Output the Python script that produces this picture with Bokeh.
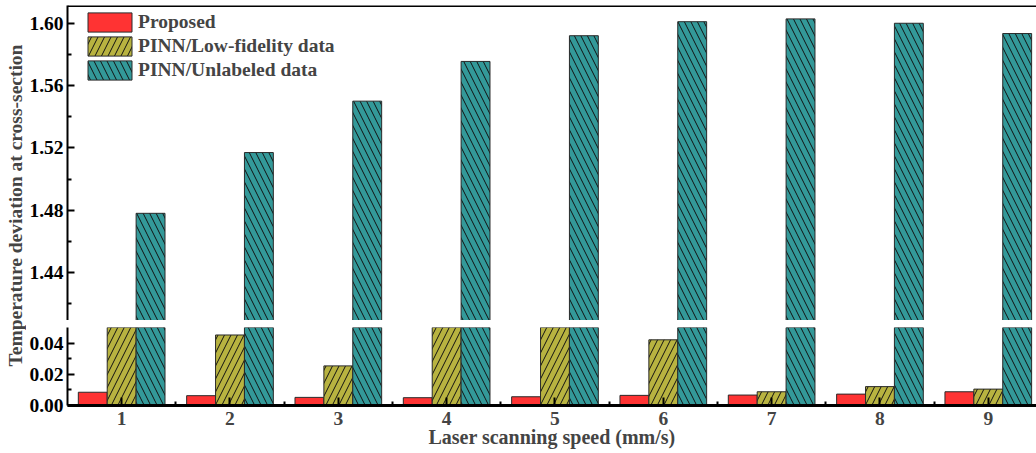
import math
from bokeh.plotting import figure
from bokeh.layouts import row, column
from bokeh.models import (ColumnDataSource, Range1d, FixedTicker, PrintfTickFormatter,
                          Legend, LegendItem, Span, Label)
from bokeh.transform import dodge
from bokeh.embed import file_html
from bokeh.resources import INLINE

# ---------------- data ----------------
speeds = [1, 2, 3, 4, 5, 6, 7, 8, 9]
proposed = [0.0085, 0.0063, 0.0052, 0.0050, 0.0056, 0.0065, 0.0067, 0.0073, 0.0088]
pinn_lowfid = [0.080, 0.0452, 0.0254, 0.070, 0.065, 0.0421, 0.0088, 0.0121, 0.0105]
pinn_unlabeled = [1.478, 1.517, 1.550, 1.5755, 1.592, 1.601, 1.6028, 1.600, 1.5934]
series_names = ["Proposed", "PINN/Low-fidelity data", "PINN/Unlabeled data"]
top_ticks = [1.44, 1.48, 1.52, 1.56, 1.60]
top_minor = [1.42, 1.46, 1.50, 1.54, 1.58]
bot_ticks = [0.00, 0.02, 0.04]
bot_minor = [0.01, 0.03]
x_minor = [1.5, 2.5, 3.5, 4.5, 5.5, 6.5, 7.5, 8.5]

FONT = "Liberation Serif"
colors = ["#FF3333", "#B8B340", "#339999"]
hatches = [None, "/", "\\"]
offsets = [-0.2667, 0.0, 0.2667]
bw = 0.2667

src = ColumnDataSource(dict(x=speeds, a=proposed, b=pinn_lowfid, c=pinn_unlabeled))
cols = ["a", "b", "c"]

xr = Range1d(0.5, 9.445)


def add_bars(p):
    rs = []
    for i in range(3):
        kw = dict(fill_color=colors[i], line_color="#2a2a2a", line_width=1)
        if hatches[i]:
            kw.update(hatch_pattern=hatches[i], hatch_color="#111111", hatch_scale=13, hatch_weight=1)
        r = p.vbar(x=dodge("x", offsets[i], range=p.x_range), top=cols[i], bottom=0, width=bw,
                   source=src, **kw)
        rs.append(r)
    return rs


def style_y(ax, ticks, minor):
    ax.ticker = FixedTicker(ticks=ticks, minor_ticks=minor)
    ax.formatter = PrintfTickFormatter(format="%.2f")
    ax.major_label_text_font = FONT
    ax.major_label_text_font_style = "bold"
    ax.major_label_text_font_size = "19.5px"
    ax.major_label_text_color = "black"
    ax.axis_line_width = 2
    ax.axis_line_color = "black"
    ax.major_tick_in = 7
    ax.major_tick_out = 0
    ax.minor_tick_in = 4
    ax.minor_tick_out = 0
    ax.major_tick_line_width = 2
    ax.minor_tick_line_width = 2
    ax.major_label_standoff = 4


# ---------------- top panel ----------------
top = figure(width=1010, height=320, x_range=xr, y_range=Range1d(1.4092, 1.6114),
             output_backend="svg", toolbar_location=None, x_axis_location=None,
             min_border_left=41, min_border_right=0, min_border_top=5, min_border_bottom=0)
top.outline_line_color = None
top.grid.visible = False
rs_top = add_bars(top)
style_y(top.yaxis[0], top_ticks, top_minor)
top.add_layout(Span(location=1.6114, dimension="width", line_color="black", line_width=3))

legend = Legend(items=[LegendItem(label=series_names[i], renderers=[rs_top[i]]) for i in range(3)],
                location=(15, 238), margin=0, padding=0, spacing=0,
                glyph_width=55, glyph_height=24,
                label_text_font=FONT, label_text_font_style="bold", label_text_font_size="19.5px",
                label_standoff=1, background_fill_alpha=0, border_line_color=None)
top.add_layout(legend)

# ---------------- bottom panel ----------------
bot = figure(width=1010, height=133, x_range=xr, y_range=Range1d(0, 0.05),
             output_backend="svg", toolbar_location=None,
             min_border_left=41, min_border_right=0, min_border_top=7, min_border_bottom=48)
bot.outline_line_color = None
bot.grid.visible = False
add_bars(bot)
style_y(bot.yaxis[0], bot_ticks, bot_minor)
xa = bot.xaxis[0]
xa.ticker = FixedTicker(ticks=speeds, minor_ticks=x_minor)
xa.major_label_text_font = FONT
xa.major_label_text_font_style = "bold"
xa.major_label_text_font_size = "19.5px"
xa.axis_line_width = 3
xa.major_tick_in = 8
xa.major_tick_out = 0
xa.minor_tick_in = 4
xa.minor_tick_out = 0
xa.major_tick_line_width = 2
xa.minor_tick_line_width = 2
xa.major_label_standoff = 6
xa.axis_label = "Laser scanning speed (mm/s)"
xa.axis_label_text_font = FONT
xa.axis_label_text_font_style = "bold"
xa.axis_label_text_font_size = "20px"
xa.axis_label_standoff = -2

# ---------------- y label column ----------------
lab = figure(width=26, height=453, x_range=Range1d(0, 26), y_range=Range1d(0, 453),
             output_backend="svg", toolbar_location=None, min_border=0,
             x_axis_location=None, y_axis_location=None)
lab.outline_line_color = None
lab.grid.visible = False
lab.add_layout(Label(x=15, y=248, text="Temperature deviation at cross-section", angle=math.pi / 2,
                     text_align="center", text_baseline="middle", text_font=FONT,
                     text_font_style="bold", text_font_size="19.5px"))

layout = row(lab, column(top, bot, spacing=0), spacing=0)
open("out.html", "w").write(file_html(layout, INLINE))
